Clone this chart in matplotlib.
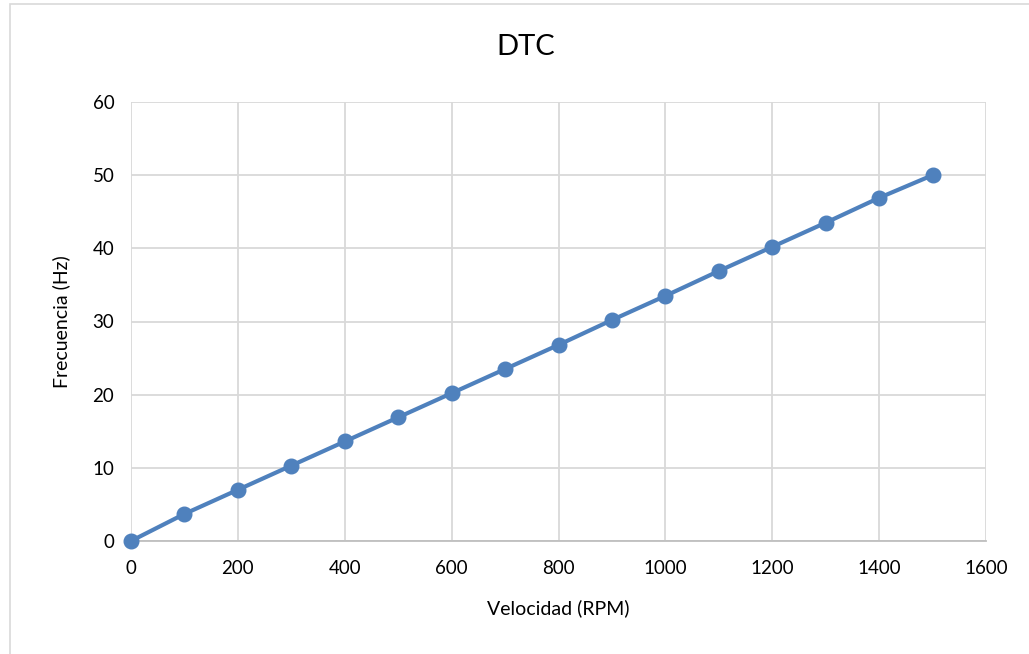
import matplotlib
matplotlib.use("Agg")
import matplotlib.pyplot as plt
from matplotlib.patches import Rectangle

# Speed (RPM) vs. output frequency (Hz)
velocidad = [0, 100, 200, 300, 400, 500, 600, 700, 800, 900, 1000, 1100, 1200, 1300, 1400, 1500]
frecuencia = [0, 3.7, 7.0, 10.3, 13.6, 16.9, 20.2, 23.5, 26.8, 30.2, 33.5, 36.9, 40.2, 43.5, 46.9, 50.0]
x_ticks = [0, 200, 400, 600, 800, 1000, 1200, 1400, 1600]
y_ticks = [0, 10, 20, 30, 40, 50, 60]

plt.rcParams['font.family'] = ['Lato', 'DejaVu Sans']

fig = plt.figure(figsize=(10.29, 6.54), dpi=100)
fig.patch.set_facecolor('white')

# chart frame
fig.patches.append(Rectangle((10 / 1029, -0.1), 1.2, (1 - 4 / 654) + 0.1,
                             transform=fig.transFigure, fill=False,
                             edgecolor='#d9d9d9', linewidth=1.2))

ax = fig.add_axes([131 / 1029, 1 - 541 / 654, (986 - 131) / 1029, (541 - 102) / 654])
ax.plot(velocidad, frecuencia, color='#4f81bd', linewidth=3, marker='o',
        markersize=10.5, markerfacecolor='#4f81bd', markeredgecolor='#4f81bd',
        zorder=3, clip_on=False)

ax.set_xlim(0, 1600)
ax.set_ylim(0, 60)
ax.set_xticks(x_ticks)
ax.set_yticks(y_ticks)
ax.grid(True, color='#d9d9d9', linewidth=1.3)
ax.set_axisbelow(True)
for s in ['top', 'right', 'left']:
    ax.spines[s].set_visible(False)
ax.spines['bottom'].set_color('#bfbfbf')
ax.spines['bottom'].set_linewidth(1.3)
ax.tick_params(length=0, labelsize=13.5, colors='black', pad=14)
ax.tick_params(axis='y', pad=12)

fig.text(526 / 1029, 1 - 47 / 654, 'DTC', fontsize=21, ha='center', va='center')
ax.set_xlabel('Velocidad (RPM)', fontsize=14, labelpad=16)
ax.set_ylabel('Frecuencia (Hz)', fontsize=14, labelpad=16)

fig.savefig('out.png', dpi=100, facecolor='white')
